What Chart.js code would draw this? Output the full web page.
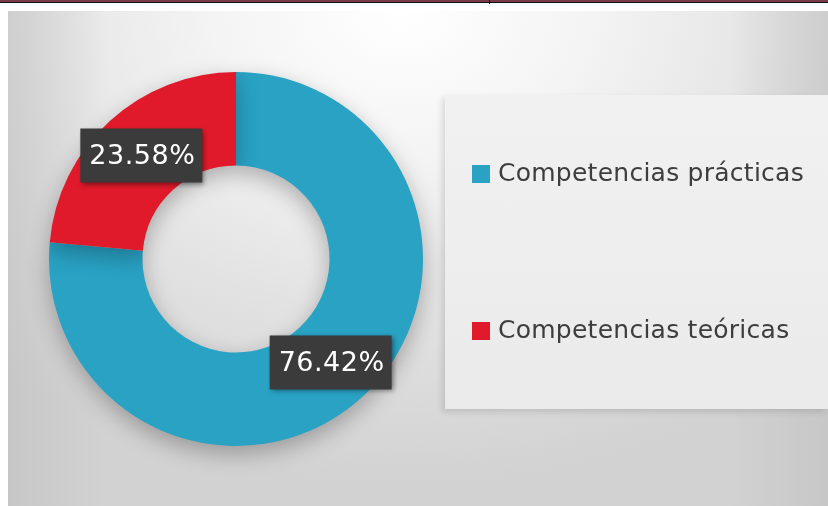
<!DOCTYPE html>
<html>
<head>
<meta charset="utf-8">
<script src="https://cdn.jsdelivr.net/npm/chart.js@4.4.0/dist/chart.umd.min.js"></script>
<style>
  html, body { margin: 0; padding: 0; width: 828px; height: 506px; overflow: hidden; background: #fff; }
  .topbar { position: absolute; left: 0; top: 0; width: 828px; height: 2px; background: #7a3a48; }
  .topline { position: absolute; left: 0; top: 2px; width: 828px; height: 1px; background: #111; }
  .topline-tick { position: absolute; left: 489px; top: 0; width: 1px; height: 4px; background: #111; }
  .panel {
    position: absolute; left: 8px; top: 11px; right: 0; bottom: 0;
    background:
      linear-gradient(90deg, rgba(190,190,190,.55) 0%, rgba(255,255,255,0) 12%, rgba(255,255,255,0) 88%, rgba(190,190,190,.55) 100%),
      radial-gradient(ellipse 75% 95% at 48% 0%, #ffffff 0%, #f4f4f4 30%, #e2e2e2 65%, #d2d2d2 100%);
  }
  .legend-panel {
    position: absolute; left: 445px; top: 95px; width: 383px; height: 314px;
    background: linear-gradient(180deg, #f1f1f1 0%, #eaeaea 100%);
    box-shadow: -3px 3px 6px rgba(0,0,0,.12);
  }
  canvas { position: absolute; left: 0; top: 0; }
</style>
</head>
<body>
<div class="topbar"></div>
<div class="topline"></div>
<div class="topline-tick"></div>
<div class="panel"></div>
<div class="legend-panel"></div>
<canvas id="chart" width="828" height="506"></canvas>
<script>
'use strict';

// ── Data ──
const CATEGORIES = ['Competencias prácticas', 'Competencias teóricas'];
const VALUES = [76.42, 23.58];
const COLORS = ['#29a2c4', '#e01a2a'];

/* ═══════════════════════════════════════════════
   PLUGINS
═══════════════════════════════════════════════ */

// soft shadow under the ring
const ringShadow = {
  id: 'ringShadow',
  beforeDatasetDraw(chart) {
    const ctx = chart.ctx;
    ctx.save();
    ctx.shadowColor = 'rgba(0,0,0,.28)';
    ctx.shadowBlur = 22;
    ctx.shadowOffsetY = 8;
  },
  afterDatasetDraw(chart) {
    chart.ctx.restore();
  },
};

// dark percentage boxes on each slice
const valueBoxes = {
  id: 'valueBoxes',
  afterDatasetsDraw(chart) {
    const ctx = chart.ctx;
    const meta = chart.getDatasetMeta(0);
    ctx.save();
    ctx.font = '27px "DejaVu Sans", sans-serif';
    ctx.letterSpacing = '0.5px';
    ctx.textAlign = 'center';
    ctx.textBaseline = 'middle';
    meta.data.forEach((arc, i) => {
      const { x, y } = arc.tooltipPosition();
      const w = 122, h = 54;
      ctx.save();
      ctx.shadowColor = 'rgba(0,0,0,.45)';
      ctx.shadowBlur = 5;
      ctx.shadowOffsetX = 2;
      ctx.shadowOffsetY = 2;
      ctx.fillStyle = '#3b3b3b';
      ctx.fillRect(x - w / 2, y - h / 2, w, h);
      ctx.restore();
      ctx.fillStyle = '#ffffff';
      ctx.fillText(VALUES[i].toFixed(2) + '%', x + 1, y + 1);
    });
    ctx.restore();
  },
};

// legend in the right-hand panel
const sideLegend = {
  id: 'sideLegend',
  afterDraw(chart) {
    const ctx = chart.ctx;
    const rows = [174, 331];
    ctx.save();
    ctx.font = '25px "DejaVu Sans", sans-serif';
    ctx.letterSpacing = '0.25px';
    ctx.textBaseline = 'middle';
    ctx.textAlign = 'left';
    chart.data.labels.forEach((label, i) => {
      const y = rows[i];
      ctx.fillStyle = chart.data.datasets[0].backgroundColor[i];
      ctx.fillRect(472, y - 9, 18, 18);
      ctx.fillStyle = '#3d3d3d';
      ctx.fillText(label, 498, y);
    });
    ctx.restore();
  },
};

/* ═══════════════════════════════════════════════
   CHART
═══════════════════════════════════════════════ */

new Chart(document.getElementById('chart').getContext('2d'), {
  type: 'doughnut',
  data: {
    labels: CATEGORIES,
    datasets: [{
      data: VALUES,
      backgroundColor: COLORS,
      borderWidth: 0,
    }],
  },
  options: {
    responsive: false,
    animation: false,
    cutout: '50%',
    layout: { padding: { left: 49, top: 72, right: 405, bottom: 60 } },
    plugins: {
      legend: { display: false },
      tooltip: { enabled: false },
    },
  },
  plugins: [ringShadow, valueBoxes, sideLegend],
});
</script>
</body>
</html>
